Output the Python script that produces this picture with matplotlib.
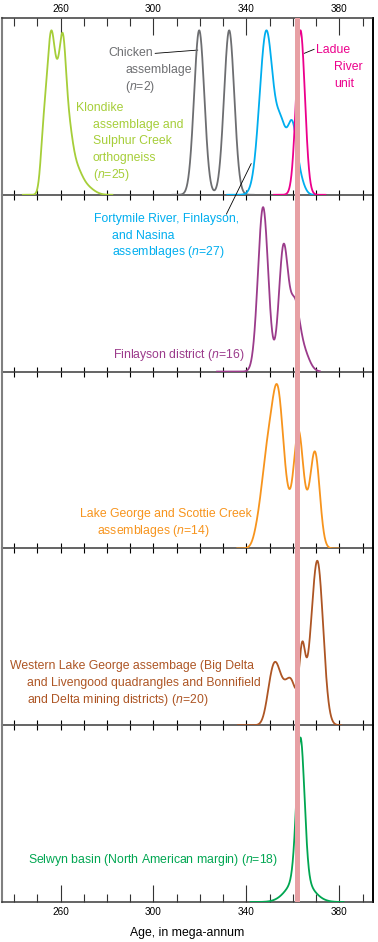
import numpy as np
import matplotlib.pyplot as plt
from matplotlib.ticker import FixedLocator

plt.rcParams['font.family'] = ['Liberation Sans', 'DejaVu Sans']
plt.rcParams['mathtext.fontset'] = 'custom'
plt.rcParams['mathtext.it'] = 'Liberation Sans:italic'
plt.rcParams['mathtext.rm'] = 'Liberation Sans'

# Ladue River unit age (shaded band)
band_age = 362.0
band_width = 1.8

# probability density curves: component ages (Ma), 1-sigma widths, weights,
# and the age range over which each curve is drawn
klondike_ages = [252.8, 255.0, 256.6, 258.6, 260.9, 263.3, 266.5, 271.0]
klondike_sig = [1.3, 1.3, 1.3, 1.3, 1.4, 1.8, 2.5, 3.2]
klondike_w = [0.38, 0.55, 0.62, 0.45, 0.78, 0.35, 0.15, 0.05]
klondike_range = [243.4, 282.7]

chicken_ages = [319.7, 332.6]
chicken_sig = [2.2, 2.2]
chicken_w = [1.0, 1.0]
chicken_range = [307.8, 343.5]

fortymile_ages = [348.6, 355.0, 359.8, 363.5]
fortymile_sig = [2.9, 2.2, 2.0, 1.8]
fortymile_w = [0.95, 0.35, 0.39, 0.06]
fortymile_range = [331.4, 369.3]

ladue_ages = [363.3]
ladue_sig = [1.9]
ladue_w = [1.0]
ladue_range = [351.5, 374.4]

finlayson_ages = [347.2, 356.0, 360.8, 364.5]
finlayson_sig = [2.2, 2.0, 2.0, 2.5]
finlayson_w = [0.98, 0.74, 0.36, 0.12]
finlayson_range = [327.0, 372.0]

lakegeorge_ages = [345.5, 348.5, 351.0, 353.8, 358.3, 362.4, 366.0, 369.6]
lakegeorge_sig = [2.0, 2.0, 2.0, 2.4, 2.0, 2.0, 2.0, 2.0]
lakegeorge_w = [0.12, 0.33, 0.24, 0.75, 0.12, 0.6, 0.1, 0.5]
lakegeorge_range = [335.7, 380.0]

western_ages = [350.5, 353.0, 357.0, 360.0, 364.0, 367.0, 370.7]
western_sig = [2.0, 2.0, 2.5, 2.0, 1.3, 2.0, 2.4]
western_w = [0.18, 0.22, 0.18, 0.15, 0.38, 0.15, 0.9]
western_range = [336.0, 381.2]

selwyn_ages = [363.3, 363.0]
selwyn_sig = [1.7, 5.0]
selwyn_w = [0.85, 0.15]
selwyn_range = [341.4, 382.2]

curves = [
    # panel, color, ages, sigmas, weights, range
    (0, '#a6ce39', klondike_ages, klondike_sig, klondike_w, klondike_range),
    (0, '#6d6e71', chicken_ages, chicken_sig, chicken_w, chicken_range),
    (0, '#00aeef', fortymile_ages, fortymile_sig, fortymile_w, fortymile_range),
    (0, '#ec008c', ladue_ages, ladue_sig, ladue_w, ladue_range),
    (1, '#9b3b8b', finlayson_ages, finlayson_sig, finlayson_w, finlayson_range),
    (2, '#f7941d', lakegeorge_ages, lakegeorge_sig, lakegeorge_w, lakegeorge_range),
    (3, '#ad5524', western_ages, western_sig, western_w, western_range),
    (4, '#00a651', selwyn_ages, selwyn_sig, selwyn_w, selwyn_range),
]

major_ticks = [260, 300, 340, 380]
minor_ticks = [240, 250, 270, 280, 290, 310, 320, 330, 350, 360, 370, 390]

W, H = 378, 942
fig = plt.figure(figsize=(W / 100, H / 100), dpi=100)
top_px, bot_px = 18, 902
left_px, right_px = 1.5, 372.5
n = 5
ph = (bot_px - top_px) / n
axes = []
for i in range(n):
    y0 = 1 - (top_px + (i + 1) * ph) / H
    ax = fig.add_axes([left_px / W, y0, (right_px - left_px) / W, ph / H])
    ax.patch.set_alpha(0)
    ax.set_xlim(234.6, 394.3)
    ax.set_ylim(0, 1.075)
    ax.set_yticks([])
    ax.xaxis.set_major_locator(FixedLocator(major_ticks))
    ax.xaxis.set_minor_locator(FixedLocator(minor_ticks))
    ax.spines['left'].set_color('#808080')
    ax.spines['left'].set_linewidth(1.5)
    ax.spines['right'].set_color('black')
    ax.spines['right'].set_linewidth(1.4)
    ax.spines['bottom'].set_color('#3a3a3a')
    ax.spines['bottom'].set_linewidth(1.1)
    ax.spines['top'].set_color('#3a3a3a')
    ax.spines['top'].set_linewidth(1.1)
    if i > 0:
        ax.spines['top'].set_visible(False)
    if i < n - 1:
        ax.tick_params(axis='x', which='both', direction='inout', length=6.5,
                       width=0.8, color='black', labelbottom=False)
    else:
        ax.tick_params(axis='x', which='major', direction='in', length=12.2,
                       width=0.8, color='#333333', labelsize=7.2, pad=3.5)
        ax.tick_params(axis='x', which='minor', direction='in', length=5.8,
                       width=0.8, color='#333333')
        ax.set_xlabel('Age, in mega-annum', fontsize=8.8, labelpad=7.5)
    ax.axvspan(band_age - band_width / 2, band_age + band_width / 2,
               color='#e7a0a4', zorder=5, lw=0)
    axes.append(ax)

# top axis ticks and labels on first panel
tax = axes[0].secondary_xaxis('top')
tax.xaxis.set_major_locator(FixedLocator(major_ticks))
tax.xaxis.set_minor_locator(FixedLocator(minor_ticks))
tax.tick_params(axis='x', which='major', direction='in', length=11.9, width=0.8,
                color='#333333', labelsize=7.2, pad=3.0)
tax.tick_params(axis='x', which='minor', direction='in', length=5.4, width=0.8,
                color='#333333')
tax.spines['top'].set_visible(False)

for panel, color, ages, sig, w, rng in curves:
    x = np.linspace(rng[0], rng[1], 600)
    y = np.zeros_like(x)
    for a, s, k in zip(ages, sig, w):
        y += k * np.exp(-(x - a) ** 2 / (2 * s ** 2))
    y /= y.max()
    axes[panel].plot(x, y, color=color, lw=1.3, zorder=4, solid_capstyle='butt')

fs = 8.8
nn = r'$\mathit{n}$'


def block(ax, lines, x_first, x_rest, y_first, color, step=0.101):
    for j, line in enumerate(lines):
        ax.text(x_first if j == 0 else x_rest, y_first - j * step, line,
                color=color, fontsize=fs, ha='left', va='center')


a0, a1, a2, a3, a4 = axes
block(a0, ['Chicken', 'assemblage', '(' + nn + '=2)'], 280.5, 287.8, 0.86, '#6d6e71')
a0.annotate('', xy=(319.1, 0.88), xytext=(300.7, 0.86),
            arrowprops=dict(arrowstyle='-', color='black', lw=0.6, shrinkA=0, shrinkB=0))
block(a0, ['Ladue', 'River', 'unit'], 370.0, 377.9, 0.878, '#ec008c')
a0.annotate('', xy=(364.9, 0.86), xytext=(369.2, 0.885),
            arrowprops=dict(arrowstyle='-', color='black', lw=0.6, shrinkA=0, shrinkB=0))
block(a0, ['Klondike', 'assemblage and', 'Sulphur Creek', 'orthogneiss',
           '(' + nn + '=25)'], 266.7, 273.9, 0.527, '#a6ce39')

block(a1, ['Fortymile River, Finlayson,', 'and Nasina',
           'assemblages (' + nn + '=27)'], 274.6, 282.1, 0.927, '#00aeef')
a1.annotate('', xy=(342.1, 0.19), xycoords=a0.transData,
            xytext=(331.4, 0.957), textcoords=a1.transData,
            arrowprops=dict(arrowstyle='-', color='black', lw=0.6, shrinkA=0, shrinkB=0))
a1.text(339.3, 0.102, 'Finlayson district (' + nn + '=16)', color='#9b3b8b',
        fontsize=fs, ha='right', va='center')

block(a2, ['Lake George and Scottie Creek', 'assemblages (' + nn + '=14)'],
      268.5, 275.9, 0.212, '#f7941d', step=0.108)

block(a3, ['Western Lake George assembage (Big Delta',
           'and Livengood quadrangles and Bonnifield',
           'and Delta mining districts) (' + nn + '=20)'],
      238.1, 245.6, 0.358, '#ad5524')

a4.text(245.8, 0.255, 'Selwyn basin (North American margin) (' + nn + '=18)',
        color='#00a651', fontsize=fs, ha='left', va='center')

fig.savefig('out.png', dpi=100, facecolor='white')
